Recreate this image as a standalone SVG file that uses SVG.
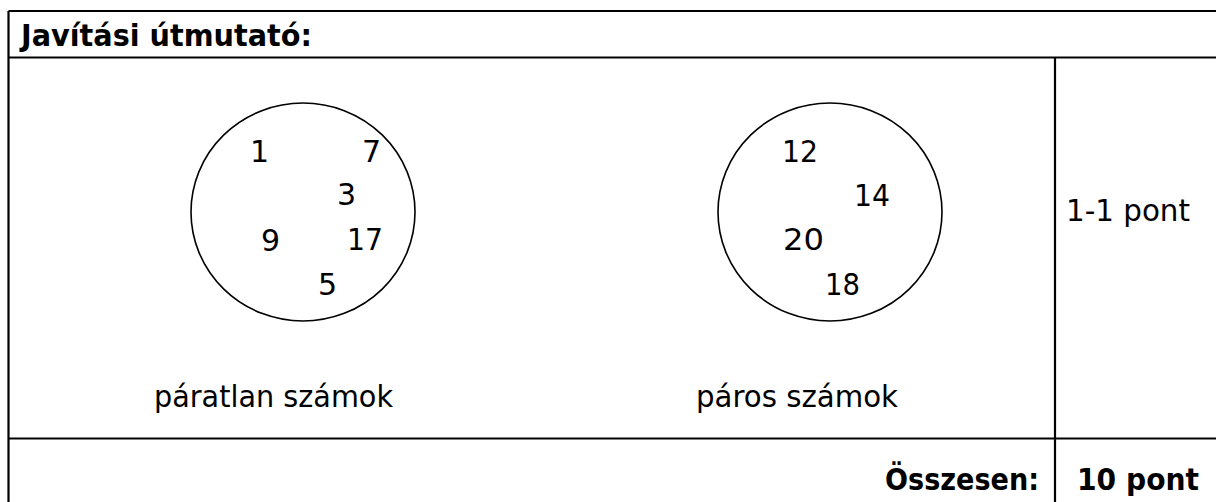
<svg xmlns="http://www.w3.org/2000/svg" width="1216" height="502" viewBox="0 0 1216 502">
<style>
.grid{stroke:#000;stroke-width:2.2;fill:none}
.ring{stroke:#000;stroke-width:1.6;fill:none}
.t{font-family:"DejaVu Sans","Noto Sans",sans-serif;font-size:30px;fill:#000}
.b{font-weight:bold}
</style>
<rect width="1216" height="502" fill="#fff"/>
<g id="table">
<line class="grid" x1="8.5" y1="11" x2="1216" y2="11"/>
<line class="grid" x1="8.5" y1="11" x2="8.5" y2="502"/>
<line class="grid" x1="8.5" y1="57.5" x2="1216" y2="57.5"/>
<line class="grid" x1="8.5" y1="438.5" x2="1216" y2="438.5"/>
<line class="grid" x1="1055" y1="57.5" x2="1055" y2="502"/>
</g>
<g id="title"><text class="t b" x="21" y="46" textLength="291" lengthAdjust="spacingAndGlyphs">Javítási útmutató:</text></g>
<g id="odd-set">
<ellipse class="ring" cx="303" cy="212" rx="112" ry="109"/>
<text class="t" x="250" y="162">1</text>
<text class="t" x="362" y="162">7</text>
<text class="t" x="337" y="205">3</text>
<text class="t" x="261" y="251">9</text>
<text class="t" x="347" y="250" textLength="36" lengthAdjust="spacingAndGlyphs">17</text>
<text class="t" x="318" y="295">5</text>
</g>
<g id="even-set">
<ellipse class="ring" cx="830" cy="212" rx="112" ry="109"/>
<text class="t" x="782" y="162" textLength="36" lengthAdjust="spacingAndGlyphs">12</text>
<text class="t" x="854" y="206" textLength="36" lengthAdjust="spacingAndGlyphs">14</text>
<text class="t" x="783" y="250" textLength="41" lengthAdjust="spacingAndGlyphs">20</text>
<text class="t" x="825" y="295" textLength="35" lengthAdjust="spacingAndGlyphs">18</text>
</g>
<g id="label-odd"><text class="t" x="154" y="407" textLength="239" lengthAdjust="spacingAndGlyphs">páratlan számok</text></g>
<g id="label-even"><text class="t" x="696" y="407" textLength="202" lengthAdjust="spacingAndGlyphs">páros számok</text></g>
<g id="points"><text class="t" x="1066" y="221" textLength="124" lengthAdjust="spacingAndGlyphs">1-1 pont</text></g>
<g id="total-label"><text class="t b" x="885" y="490" textLength="154" lengthAdjust="spacingAndGlyphs">Összesen:</text></g>
<g id="total-value"><text class="t b" x="1077" y="490" textLength="122" lengthAdjust="spacingAndGlyphs">10 pont</text></g>
</svg>
